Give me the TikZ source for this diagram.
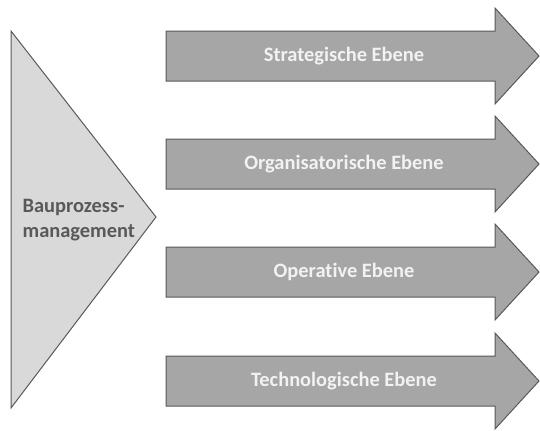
\documentclass[tikz,border=0pt]{standalone}
\usepackage{fontspec}
\setmainfont[Ligatures=NoCommon]{Carlito}
\definecolor{arrowfill}{HTML}{A6A6A6}
\definecolor{edgegray}{HTML}{595959}
\definecolor{trifill}{HTML}{D9D9D9}
\definecolor{lighttext}{HTML}{F2F2F2}
\definecolor{darktext}{HTML}{595959}
\begin{document}
\begin{tikzpicture}[x=1bp,y=-1bp,
  shapeedge/.style={draw=edgegray,line width=1bp,line join=miter},
  arrowbody/.style={shapeedge,fill=arrowfill},
  tribody/.style={shapeedge,fill=trifill},
  arrowlabel/.style={text=lighttext,font=\fontsize{20.5}{24}\selectfont\bfseries},
  trilabel/.style={text=darktext,font=\fontsize{20.5}{25}\selectfont\bfseries,align=left,inner sep=0pt}]
\useasboundingbox (0,0) rectangle (540,430);
% triangle
\draw[tribody] (11,31) -- (156,217) -- (11,408) -- cycle;
\node[trilabel,anchor=west] (bpm) at (22.5,220) {Bauprozess-\\management};
% arrows
\foreach \c/\name/\txt in {56/a1/Strategische Ebene,164/a2/Organisatorische Ebene,272/a3/Operative Ebene,381/a4/Technologische Ebene}{
  \draw[arrowbody] (166,\c-25) -- (495,\c-25) -- (495,\c-48) -- (539,\c) -- (495,\c+48) -- (495,\c+25) -- (166,\c+25) -- cycle;
  \node[arrowlabel] (\name) at (344,\c) {\txt};
}
\end{tikzpicture}
\end{document}
